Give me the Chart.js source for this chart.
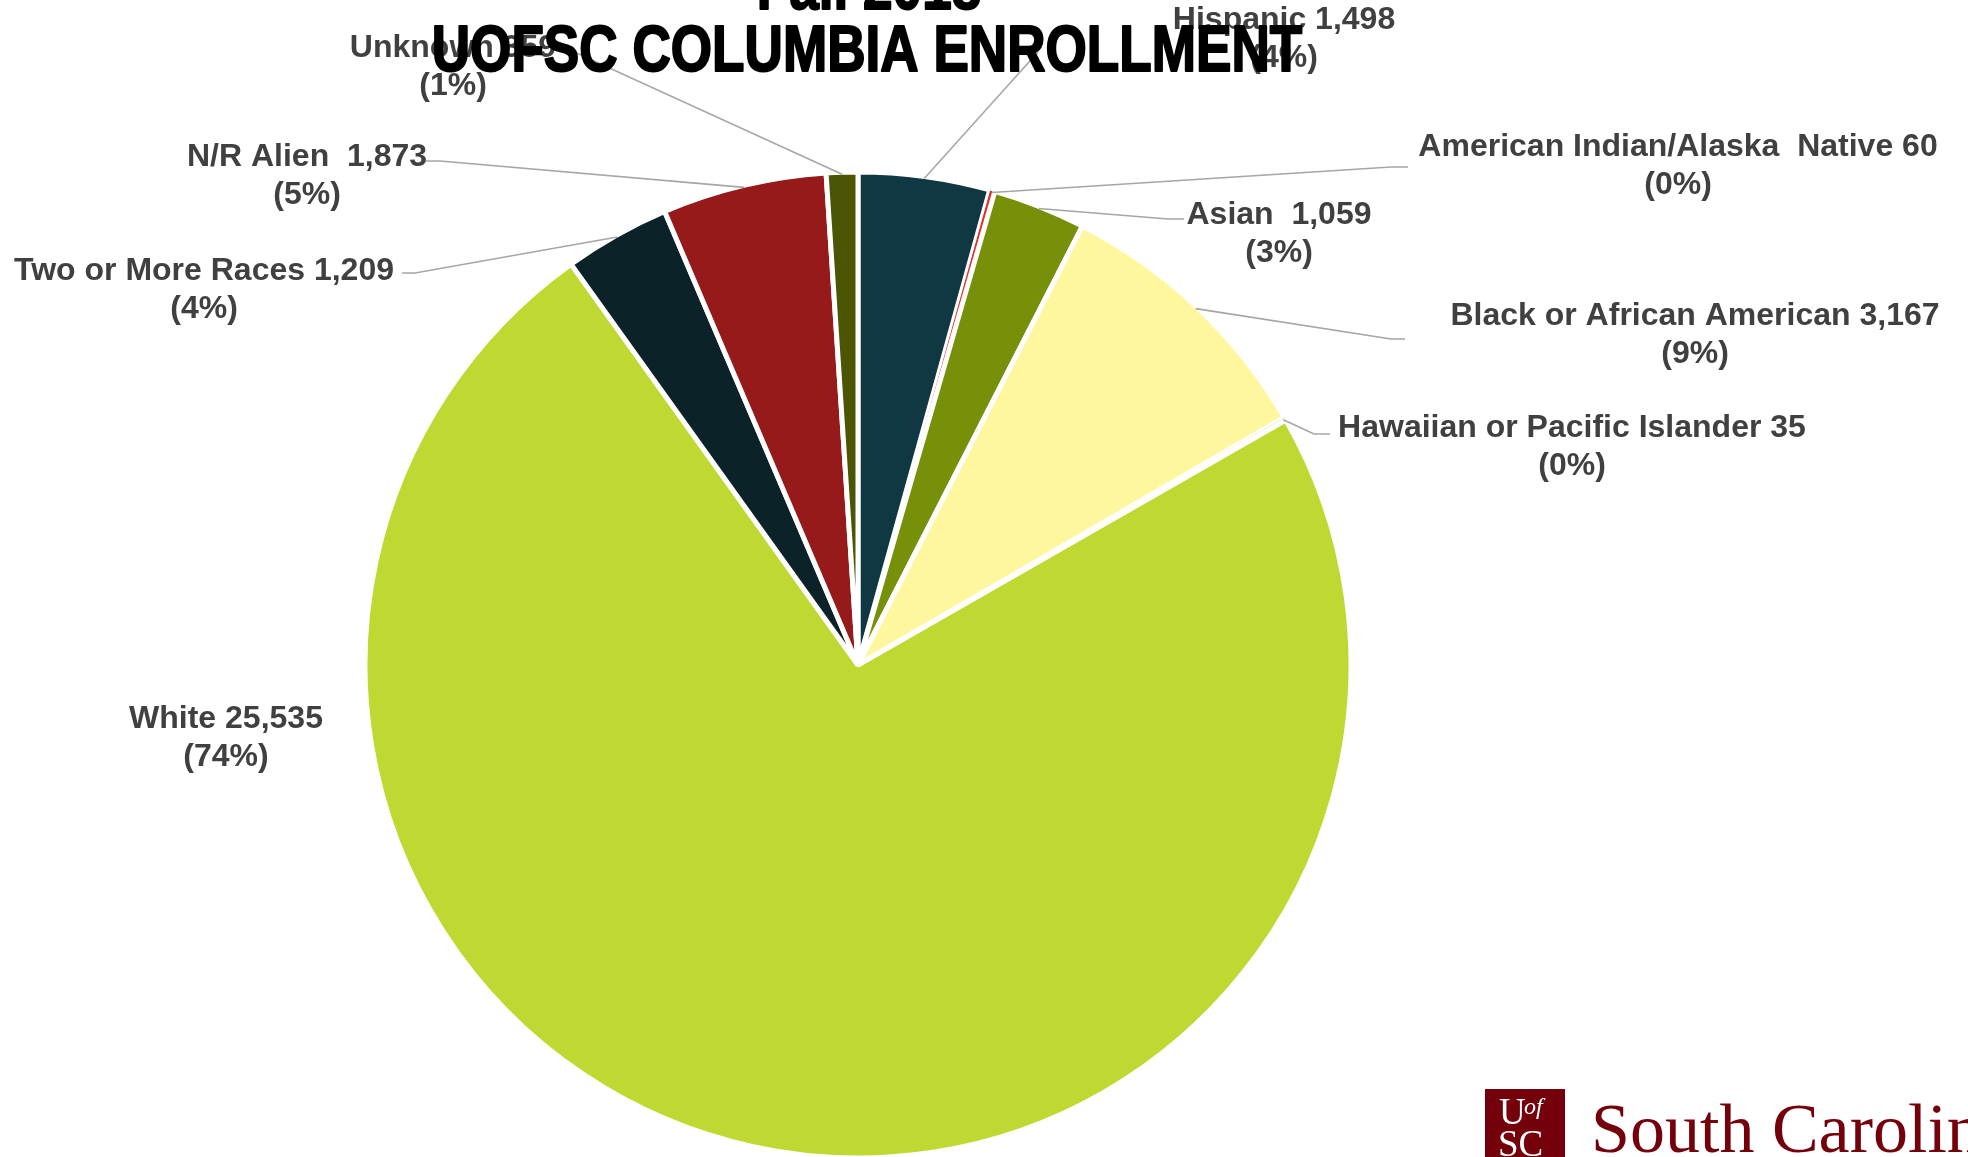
<!DOCTYPE html>
<html>
<head>
<meta charset="utf-8">
<title>UOFSC Columbia Enrollment - Fall 2018</title>
<script src="https://cdn.jsdelivr.net/npm/chart.js@4.4.1/dist/chart.umd.min.js"></script>
<style>
    html, body { margin: 0; padding: 0; background: #FFFFFF; }
    #wrap { position: relative; width: 1968px; height: 1157px; overflow: hidden; }
</style>
</head>
<body>
<div id="wrap"><canvas id="enrollChart"></canvas></div>
<script>
/* Fall 2018 enrollment by race / ethnicity */
const categories = [
    'Hispanic',
    'American Indian/Alaska  Native',
    'Asian ',
    'Black or African American',
    'Hawaiian or Pacific Islander',
    'White',
    'Two or More Races',
    'N/R Alien ',
    'Unknown'
];
const enrollment = [1498, 60, 1059, 3167, 35, 25535, 1209, 1873, 359];
const percentLabels = ['(4%)', '(0%)', '(3%)', '(9%)', '(0%)', '(74%)', '(4%)', '(5%)', '(1%)'];
const titleLines = ['Fall 2018', 'UOFSC COLUMBIA ENROLLMENT'];

const sliceColors = ['#0F3842', '#D9342B', '#76900A', '#FFF79E', '#A8C43A',
                     '#C0D932', '#0B2228', '#951A19', '#4B5504'];

/**
 * Label placement: text centre x, first-line middle y
 */
const labelPlacement = [
    [1284, 20], [1678, 147], [1279, 215], [1695, 316], [1572, 428],
    [226, 719], [204, 271], [307, 157], [453, 48]
];

/**
 * Leader line: elbow point then end point (null = no leader)
 */
const leaderPlacement = [
    [[1038, 52], [1038, 52]],
    [[1391, 167], [1408, 167]],
    [[1168, 219], [1184, 219]],
    [[1391, 339], [1405, 339]],
    [[1314, 434], [1330, 434]],
    null,
    [[415, 273], [402, 273]],
    [[440, 161], [426, 161]],
    [[570, 50], [557, 48]]
];

const labelFont = 'bold 32px "Liberation Sans", Arial, sans-serif';
const labelColor = '#404040';
const leaderColor = '#A6A6A6';
const serifFamily = '"Liberation Serif", "Times New Roman", serif';

const labelsPlugin = {
    id: 'sliceLabels',
    afterDatasetsDraw(chart) {
        const ctx = chart.ctx;
        const arcs = chart.getDatasetMeta(0).data;
        ctx.save();

        // leader lines
        ctx.strokeStyle = leaderColor;
        ctx.lineWidth = 1.6;
        arcs.forEach((arc, i) => {
            const lead = leaderPlacement[i];
            if (!lead) return;
            const p = arc.getProps(['x', 'y', 'startAngle', 'endAngle', 'outerRadius'], true);
            const mid = (p.startAngle + p.endAngle) / 2;
            const r = p.outerRadius - 2;
            ctx.beginPath();
            ctx.moveTo(p.x + r * Math.cos(mid), p.y + r * Math.sin(mid));
            ctx.lineTo(lead[0][0], lead[0][1]);
            ctx.lineTo(lead[1][0], lead[1][1]);
            ctx.stroke();
        });

        // label text
        ctx.font = labelFont;
        ctx.fillStyle = labelColor;
        ctx.textAlign = 'center';
        ctx.textBaseline = 'middle';
        categories.forEach((name, i) => {
            const [cx, cy] = labelPlacement[i];
            ctx.fillText(name + ' ' + enrollment[i].toLocaleString('en-US'), cx, cy);
            ctx.fillText(percentLabels[i], cx, cy + 38);
        });
        ctx.restore();
    }
};

const titleLogoPlugin = {
    id: 'titleLogo',
    afterDraw(chart) {
        const ctx = chart.ctx;
        ctx.save();

        // condensed heavy title
        ctx.fillStyle = '#000000';
        ctx.strokeStyle = '#000000';
        ctx.lineWidth = 2;
        ctx.lineJoin = 'round';
        ctx.font = 'bold 64px "Liberation Sans", Arial, sans-serif';
        ctx.textAlign = 'center';
        ctx.textBaseline = 'alphabetic';
        const sx = 0.83;
        ctx.scale(sx, 1);
        ctx.fillText(titleLines[0], 869 / sx, 9);
        ctx.strokeText(titleLines[0], 869 / sx, 9);
        ctx.fillText(titleLines[1], 867 / sx, 71);
        ctx.strokeText(titleLines[1], 867 / sx, 71);
        ctx.setTransform(1, 0, 0, 1, 0, 0);

        // UofSC logo block
        ctx.fillStyle = '#73000A';
        ctx.fillRect(1485, 1089, 80, 70);
        ctx.fillStyle = '#FFFFFF';
        ctx.textAlign = 'left';
        ctx.font = '37px ' + serifFamily;
        ctx.fillText('U', 1499, 1124);
        ctx.fillText('SC', 1498, 1156);
        ctx.font = 'italic 24px ' + serifFamily;
        ctx.fillText('of', 1524, 1114);
        ctx.fillStyle = '#73000A';
        ctx.font = '70px ' + serifFamily;
        ctx.fillText('South Carolina', 1591, 1152);
        ctx.restore();
    }
};

new Chart(document.getElementById('enrollChart'), {
    type: 'pie',
    data: {
        labels: categories,
        datasets: [{
            data: enrollment,
            backgroundColor: sliceColors,
            borderColor: '#FFFFFF',
            borderWidth: [5, 1, 5, 5, 1, 5, 5, 5, 5],
            clip: false
        }]
    },
    options: {
        responsive: true,
        maintainAspectRatio: false,
        animation: false,
        radius: 493,
        layout: {
            padding: { left: 366, right: 618, top: 173, bottom: 0 }
        },
        plugins: {
            legend: { display: false },
            tooltip: { enabled: false },
            title: { display: false }
        }
    },
    plugins: [labelsPlugin, titleLogoPlugin]
});
</script>
</body>
</html>
